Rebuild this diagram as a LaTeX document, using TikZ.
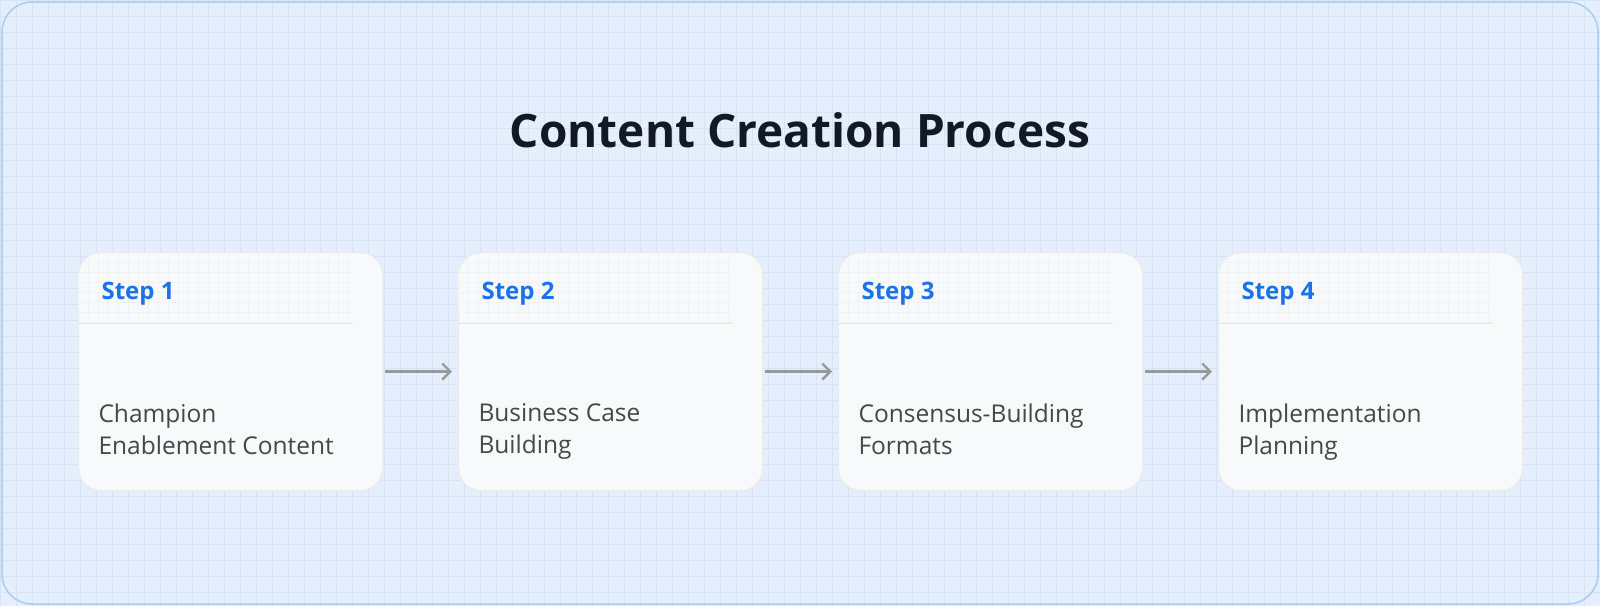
\documentclass[tikz,border=0pt]{standalone}
\usepackage{fontspec}
\setmainfont{Open Sans}
\usetikzlibrary{arrows.meta}
\definecolor{bgc}{HTML}{E4EEFC}
\definecolor{gridc}{HTML}{D6E3F5}
\definecolor{framec}{HTML}{A9CCF2}
\definecolor{cardc}{HTML}{F7F9FB}
\definecolor{stepc}{HTML}{1A73E8}
\definecolor{titlec}{HTML}{121826}
\begin{document}
\begin{tikzpicture}[x=1pt,y=-1pt,
  card/.style={draw=black!8,line width=1.2,fill=cardc,rounded corners=22,minimum width=304,minimum height=238,anchor=north west},
  steplbl/.style={anchor=west,text=stepc,font=\fontsize{24}{28}\selectfont\bfseries},
  body/.style={anchor=north west,align=left,text=black!72,font=\fontsize{24.5}{32}\selectfont},
  arr/.style={draw=black!40,line width=2.4,-{Straight Barb[length=8,width=16]}}]
\useasboundingbox (0,0) rectangle (1600,606);
\fill[bgc] (0,0) rectangle (1600,606);
\foreach \g in {0,16,...,1600} \draw[gridc,line width=0.5] (\g,0) -- (\g,606);
\foreach \g in {0,16,...,606} \draw[gridc,line width=0.5] (0,\g) -- (1600,\g);
\draw[framec,line width=1.5,rounded corners=30] (2,2) rectangle (1598,604);
\node[font=\fontsize{46}{54}\selectfont\bfseries,text=titlec] (title) at (800,130) {Content Creation Process};
\foreach \i/\x/\a/\b in {1/78/Champion/Enablement Content,2/458/Business Case/Building,3/838/Consensus-Building/Formats,4/1218/Implementation/Planning}{
  \node[card] (c\i) at (\x,252) {};
  \begin{scope}
    \clip[rounded corners=22] (\x,252) rectangle (\x+304,330);
    \foreach \g in {0,10,...,270} \draw[black!5,line width=0.5] (\x+\g,252) -- (\x+\g,323);
    \foreach \g in {262,272,...,322} \draw[black!5,line width=0.5] (\x,\g) -- (\x+275,\g);
  \end{scope}
  \draw[black!10,line width=1] (\x,323) -- (\x+275,323);
  \node[steplbl] (s\i) at (\x+20,294) {Step \i};
  \node[body] (b\i) at (\x+17,400) {\a\\\b};
}
\foreach \i/\j in {1/2,2/3,3/4}{
  \draw[arr] ([xshift=2]c\i.east) -- ([xshift=-6]c\j.west);
}
\end{tikzpicture}
\end{document}
